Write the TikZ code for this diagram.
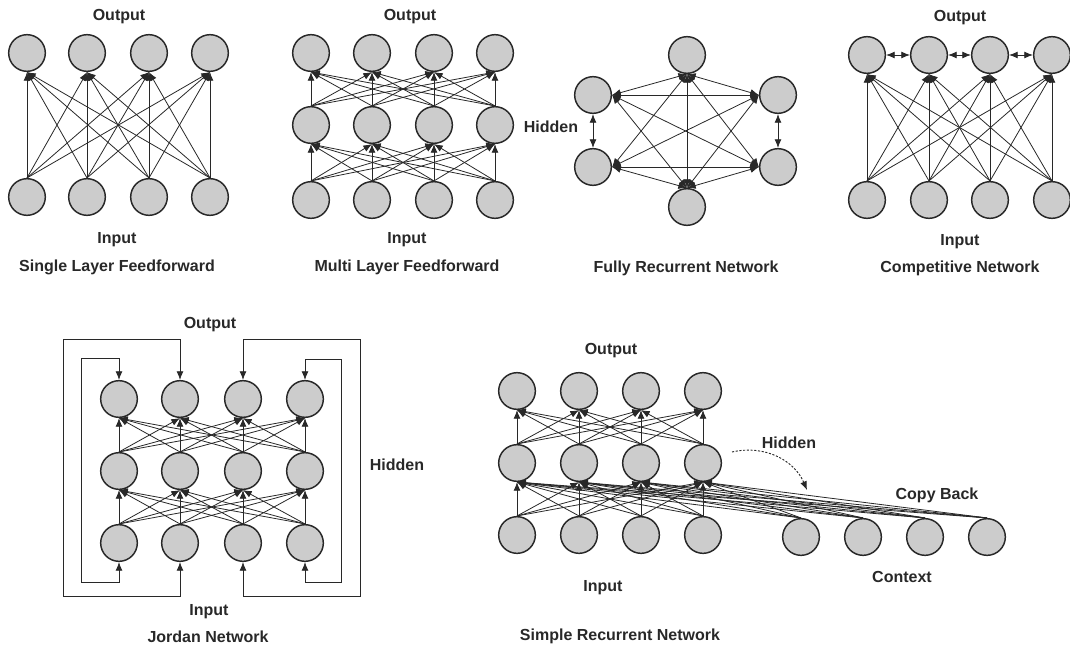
\documentclass[tikz,border=0pt]{standalone}
\usepackage{fontspec}
\setmainfont{Liberation Sans}
\usetikzlibrary{arrows.meta}
\definecolor{unitfill}{RGB}{204,204,204}
\definecolor{ink}{RGB}{40,40,40}
\begin{document}
\begin{tikzpicture}[x = 0.75pt, y = -0.75pt,
	unit/.style = {circle, draw = ink, line width = 1.1pt, fill = unitfill, minimum size = 27.5pt, inner sep = 0pt},
	lbl/.style = {text = ink, font = \fontsize{12}{14}\selectfont\bfseries},
	Head/.tip = {Latex[length = 6.5pt, width = 5.2pt]},
	wire/.style = {draw = ink, line width = 0.6pt, -Head},
	twoway/.style = {draw = ink, line width = 0.6pt, Head-Head},
	copyarc/.style = {draw = ink, line width = 0.7pt, dash pattern = on 1.6pt off 1.2pt, -Head}]
	\useasboundingbox (0,0) rectangle (1070,649);

	\foreach \x [count = \i] in {27,87,149,210} {
		\node (so\i) at (\x,53) [unit] {};
		\node (si\i) at (\x,197) [unit] {};
	}
	\foreach \x [count = \i] in {311,372,434,495} {
		\node (mo\i) at (\x,53) [unit] {};
		\node (mh\i) at (\x,125) [unit] {};
		\node (mi\i) at (\x,200) [unit] {};
	}
	\foreach \x [count = \i] in {867,929,990,1052} {
		\node (co\i) at (\x,55) [unit] {};
		\node (ci\i) at (\x,200) [unit] {};
	}
	\foreach \x [count = \i] in {119,180,243,305} {
		\node (jo\i) at (\x,399) [unit] {};
		\node (jh\i) at (\x,471) [unit] {};
		\node (ji\i) at (\x,543) [unit] {};
	}
	\foreach \x [count = \i] in {517,579,641,703} {
		\node (ro\i) at (\x,391) [unit] {};
		\node (rh\i) at (\x,463) [unit] {};
		\node (ri\i) at (\x,535) [unit] {};
	}
	\foreach \x [count = \i] in {801,863,925,987}
		\node (rc\i) at (\x,537) [unit] {};
	\node (ft) at (687,55) [unit] {};
	\node (flu) at (593,95) [unit] {};
	\node (fru) at (778,95) [unit] {};
	\node (fll) at (593,167) [unit] {};
	\node (frl) at (778,167) [unit] {};
	\node (fb) at (687,207) [unit] {};

	\foreach \i in {1,...,4} \foreach \j in {1,...,4} {
		\draw [wire] (si\i.north) -- (so\j.south);
		\draw [wire] (mi\i.north) -- (mh\j.south);
		\draw [wire] (mh\i.north) -- (mo\j.south);
		\draw [wire] (ci\i.north) -- (co\j.south);
		\draw [wire] (ji\i.north) -- (jh\j.south);
		\draw [wire] (jh\i.north) -- (jo\j.south);
		\draw [wire] (ri\i.north) -- (rh\j.south);
		\draw [wire] (rh\i.north) -- (ro\j.south);
		\draw [wire] (rc\i.north) -- (rh\j.south);
	}
	\foreach \i/\j in {1/2,2/3,3/4}
		\draw [twoway] (co\i) -- (co\j);
	\foreach \a/\b in {ft.south/flu.east, ft.south/fru.west, ft.south/fll.east, ft.south/frl.west, ft.south/fb.north,
		fb.north/flu.east, fb.north/fru.west, fb.north/fll.east, fb.north/frl.west,
		flu.east/fru.west, flu.east/frl.west, fll.east/fru.west, fll.east/frl.west,
		flu.south/fll.north, fru.south/frl.north}
		\draw [twoway] (\a) -- (\b);

	\draw [twoway] (ji1.south) |- (81,582) -- (81,358) -| (jo1.north);
	\draw [twoway] (ji2.south) |- (63,596) -- (63,339) -| (jo2.north);
	\draw [twoway] (ji3.south) |- (360,596) -- (360,339) -| (jo3.north);
	\draw [twoway] (ji4.south) |- (341,582) -- (341,359) -| (jo4.north);

	\coordinate (cpA) at (732,452);
	\coordinate (cpB) at (807,490);
	\draw [copyarc] (cpA) to [bend left = 40] (cpB);

	\node (soL) at (119,17) [lbl] {Output};
	\node (siL) at (117,240) [lbl] {Input};
	\node (sT) at (117,267) [lbl] {Single Layer Feedforward};
	\node (moL) at (410,17) [lbl] {Output};
	\node (miL) at (407,240) [lbl] {Input};
	\node (mT) at (407,267) [lbl] {Multi Layer Feedforward};
	\node (fhL) at (551,127) [lbl] {Hidden};
	\node (fT) at (686,268) [lbl] {Fully Recurrent Network};
	\node (coL) at (960,18) [lbl] {Output};
	\node (ciL) at (960,242) [lbl] {Input};
	\node (cT) at (960,268) [lbl] {Competitive Network};
	\node (joL) at (210,325) [lbl] {Output};
	\node (jhL) at (397,465) [lbl] {Hidden};
	\node (jiL) at (209,612) [lbl] {Input};
	\node (jT) at (208,637) [lbl] {Jordan Network};
	\node (roL) at (611,351) [lbl] {Output};
	\node (rhL) at (789,443) [lbl] {Hidden};
	\node (rcbL) at (937,495) [lbl] {Copy Back};
	\node (rcL) at (902,577) [lbl] {Context};
	\node (riL) at (603,588) [lbl] {Input};
	\node (rT) at (620,636) [lbl] {Simple Recurrent Network};
\end{tikzpicture}
\end{document}
